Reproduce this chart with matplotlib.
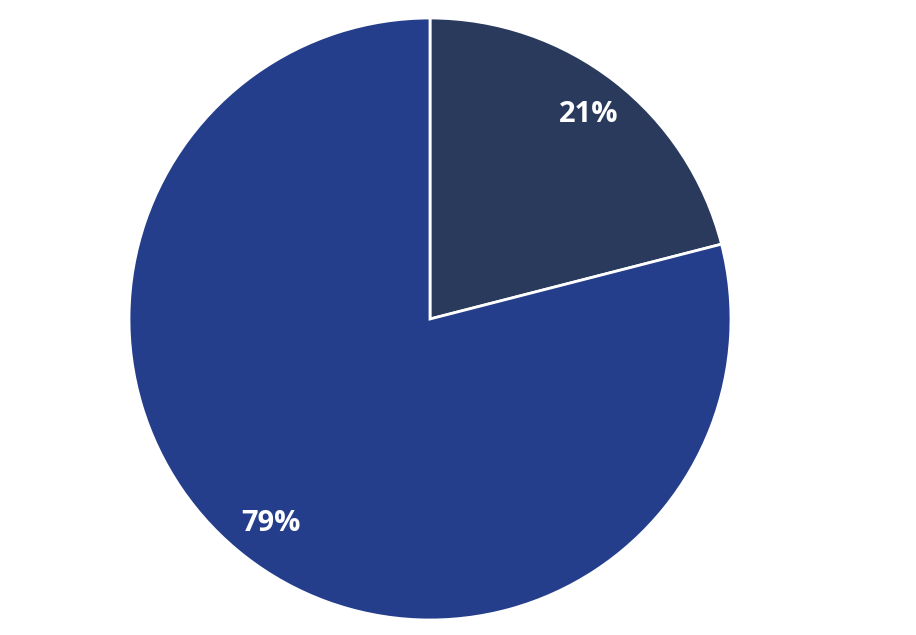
import matplotlib.pyplot as plt

# data
labels = ['A', 'B']
values = [21, 79]
colors = ['#293a5c', '#253e8c']

fig = plt.figure(figsize=(9.16, 6.35), dpi=100)
ax = fig.add_axes([0, 0, 1, 1])

wedges, texts, autotexts = ax.pie(
    values, colors=colors, startangle=90, counterclock=False,
    autopct='%1.0f%%', pctdistance=0.86,
    wedgeprops={'edgecolor': 'white', 'linewidth': 2},
    textprops={'color': 'white', 'fontsize': 21, 'fontweight': 'bold',
               'family': 'Open Sans'},
    radius=1.0, center=(0, 0))

ax.set_aspect('equal')
# center at (430, 319) px, radius ~301 px
ax.set_xlim(-430 / 301, (916 - 430) / 301)
ax.set_ylim(-(635 - 319) / 301, 319 / 301)
ax.axis('off')

fig.savefig('out.png', dpi=100, facecolor='white')
